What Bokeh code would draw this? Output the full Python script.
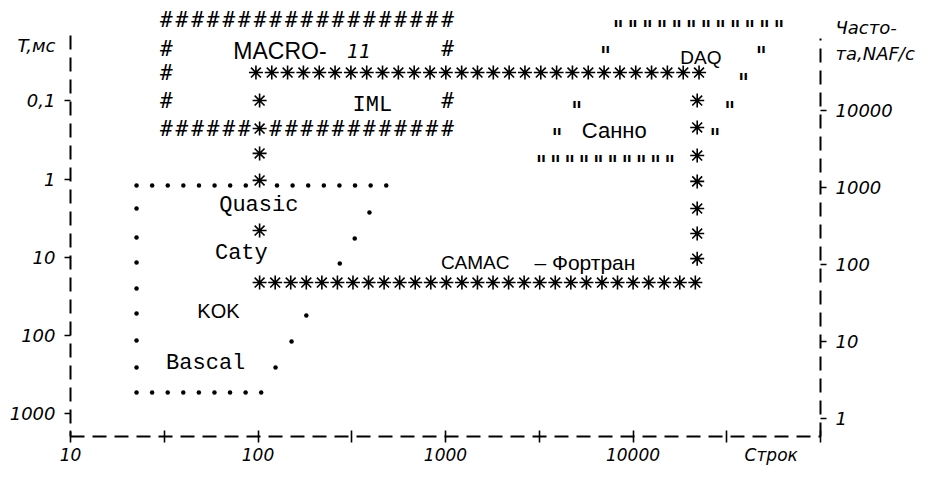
import numpy as np
from bokeh.plotting import figure
from bokeh.models import Range1d, LogScale, LogAxis, FixedTicker
from bokeh.core.properties import value
from bokeh.embed import file_html
from bokeh.resources import INLINE

# ---------------- axes ----------------
x_ticks = [10, 100, 1000, 10000]
x_tick_labels = ["10", "100", "1000", "10000"]
x_cross_ticks = [10, 31.62, 100, 316.2, 1000, 3162, 10000, 31623, 100000]
x_title_pos = 54600
x_title = "Строк"
t_ticks = [0.1, 1, 10, 100, 1000]
t_tick_labels = ["0,1", "1", "10", "100", "1000"]
t_title_pos = 0.0196
t_title = "T,мс"
f_ticks = [10000, 1000, 100, 10, 1]
f_tick_labels = ["10000", "1000", "100", "10", "1"]
f_title_pos = 80150
f_title = "Часто-\nта,NAF/с"

# ---------------- '#' frame (MACRO-11) ----------------
hash_row_x = (32.4, 1025)
hash_row_n = 19
hash_row_t = [0.0094, 0.226]
hash_bottom_skip = 6
hash_left_x = 32.4
hash_left_t = [0.0215, 0.0435, 0.0991]
hash_right_x = 1025
hash_right_t = [0.0215, 0.0991]

# ---------------- '*' frame (IML / CAMAC-Фортран) ----------------
star_top_x = (97.5, 22500)
star_top_n = 29
star_top_t = 0.0435
star_bot_x = (102, 21500)
star_bot_n = 29
star_bot_t = 21.0
star_left_x = 102
star_left_t = [0.0991, 0.226, 0.47, 1.04, 4.55]
star_right_x = 22000
star_right_t = [0.0991, 0.219, 0.5, 1.07, 2.38, 4.97, 10.4]

# ---------------- '.' frame (Quasic / Caty / KOK / Bascal) ----------------
dot_top_x = (22.5, 483)
dot_top_n = 17
dot_top_t = 1.21
dot_top_skip = 8
dot_left_x = 22.5
dot_left_t = [2.38, 5.57, 11.65, 25.0, 52.2, 115.6, 256]
dot_bot_x = (22.5, 104)
dot_bot_n = 9
dot_bot_t = 533
dot_diag_x = [393, 328, 273, 181, 151, 124]
dot_diag_t = [2.68, 5.75, 12.0, 55.5, 119, 256]

# ---------------- '"' frame (DAQ / Санно) ----------------
q_top_x = (8340, 60100)
q_top_n = 12
q_top_t = 0.0100
q_left_x = [7130, 5010, 3930]
q_left_t = [0.0215, 0.108, 0.24]
q_right_x = [48300, 38800, 32800, 27400]
q_right_t = [0.0215, 0.0475, 0.108, 0.24]
q_bot_x = (3240, 15700)
q_bot_n = 10
q_bot_t = 0.53

# ---------------- names ----------------
mono_names = ["IML", "Quasic", "Caty", "Bascal"]
mono_x = [407, 101, 81.5, 52.6]
mono_t = [0.115, 2.18, 8.94, 227]
sans_names = ["MACRO-", "KOK", "CAMAC", "DAQ", "Санно"]
sans_x = [73.9, 61.5, 1440, 23000, 7940]
sans_t = [0.0228, 48, 11.65, 0.028, 0.24]
sans_align = ["left", "center", "center", "center", "center"]
sans_size = ["23px", "20px", "19px", "19px", "22px"]
italic_names = ["11"]
italic_x = [298]
italic_t = [0.0228]
fortran_name = ["– Фортран"]
fortran_x = [2980]
fortran_t = [11.65]


def row(span, n):
    return list(np.geomspace(span[0], span[1], n))


p = figure(width=917, height=467, x_axis_type="log", y_axis_type="log",
           x_range=Range1d(10, 1e5), y_range=Range1d(1950, 0.00522),
           output_backend="svg", toolbar_location=None, title=None,
           min_border_left=70, min_border_right=87, min_border_top=0,
           min_border_bottom=31, background_fill_color="white",
           border_fill_color="white")
p.xgrid.visible = False
p.ygrid.visible = False
p.outline_line_color = None

p.extra_y_ranges = {"f": Range1d(0.577, 265000)}
p.extra_y_scales = {"f": LogScale()}

TICK_FONT = "DejaVu Sans"


def style_axis(ax, standoff, size="18px"):
    ax.axis_line_dash = "14 8"
    ax.axis_line_width = 2
    ax.major_tick_in = 0
    ax.major_tick_out = 0
    ax.minor_tick_line_width = 1.6
    ax.major_label_text_font = TICK_FONT
    ax.major_label_text_font_style = "italic"
    ax.major_label_text_font_size = size
    ax.major_label_text_color = "black"
    ax.major_label_standoff = standoff


xa = p.xaxis[0]
xa.ticker = FixedTicker(ticks=x_ticks + [x_title_pos], minor_ticks=x_cross_ticks)
xa.major_label_overrides = dict(zip(x_ticks + [x_title_pos], x_tick_labels + [x_title]))
style_axis(xa, 2, "17px")
xa.minor_tick_in = 6
xa.minor_tick_out = 6

ya = p.yaxis[0]
ya.ticker = FixedTicker(ticks=[t_title_pos] + t_ticks, minor_ticks=t_ticks)
ya.major_label_overrides = dict(zip([t_title_pos] + t_ticks, [t_title] + t_tick_labels))
style_axis(ya, 9)
ya.minor_tick_in = 0
ya.minor_tick_out = 6
ya.bounds = (0.0147, 1950)

ra = LogAxis(y_range_name="f",
             ticker=FixedTicker(ticks=[f_title_pos] + f_ticks, minor_ticks=f_ticks))
ra.major_label_overrides = dict(zip([f_title_pos] + f_ticks, [f_title] + f_tick_labels))
style_axis(ra, 9)
ra.minor_tick_in = 0
ra.minor_tick_out = 6
ra.bounds = (0.577, 85100)
p.add_layout(ra, "right")

# ---- '#' frame ----
hx, ht = [], []
for k, t in enumerate(hash_row_t):
    for i, xv in enumerate(row(hash_row_x, hash_row_n)):
        if k == 1 and i == hash_bottom_skip:
            continue
        hx.append(xv)
        ht.append(t)
hx += [hash_left_x] * len(hash_left_t) + [hash_right_x] * len(hash_right_t)
ht += hash_left_t + hash_right_t
p.text(x=hx, y=ht, text=["#"] * len(hx), text_font=value("DejaVu Sans Mono"),
       text_font_size="21px", text_align="center", text_baseline="middle",
       text_color="black")

# ---- '*' frame ----
sx = row(star_top_x, star_top_n) + row(star_bot_x, star_bot_n)
st = [star_top_t] * star_top_n + [star_bot_t] * star_bot_n
sx += [star_left_x] * len(star_left_t) + [star_right_x] * len(star_right_t)
st += star_left_t + star_right_t
p.scatter(x=sx, y=st, marker="asterisk", size=14, line_color="black", line_width=1.6)

# ---- '.' frame ----
dx = [xv for i, xv in enumerate(row(dot_top_x, dot_top_n)) if i != dot_top_skip]
dt = [dot_top_t] * len(dx)
dx += [dot_left_x] * len(dot_left_t) + row(dot_bot_x, dot_bot_n) + dot_diag_x
dt += dot_left_t + [dot_bot_t] * dot_bot_n + dot_diag_t
p.scatter(x=dx, y=dt, marker="circle", size=4.5, fill_color="black", line_color=None)

# ---- '"' frame ----
qx = row(q_top_x, q_top_n) + q_left_x + q_right_x + row(q_bot_x, q_bot_n)
qt = [q_top_t] * q_top_n + q_left_t + q_right_t + [q_bot_t] * q_bot_n
p.text(x=qx, y=qt, text=["ıı"] * len(qx), text_font=value("DejaVu Sans"),
       text_font_size="13px", text_font_style="bold", text_align="center",
       text_baseline="middle", text_color="black")

# ---- names ----
p.text(x=mono_x, y=mono_t, text=mono_names, text_font=value("Liberation Mono"),
       text_font_size="22px", text_align="center", text_baseline="middle",
       text_color="black")
p.text(x=sans_x, y=sans_t, text=sans_names, text_font=value("Liberation Sans"),
       text_font_size=sans_size, text_align=sans_align, text_baseline="middle",
       text_color="black")
p.text(x=italic_x, y=italic_t, text=italic_names, text_font=value("DejaVu Sans"),
       text_font_size="19px", text_font_style="italic", text_align="left",
       text_baseline="middle", text_color="black")
p.text(x=fortran_x, y=fortran_t, text=fortran_name, text_font=value("Liberation Sans"),
       text_font_size="21px", text_align="left", text_baseline="middle",
       text_color="black")

open("out.html", "w").write(file_html(p, INLINE))
